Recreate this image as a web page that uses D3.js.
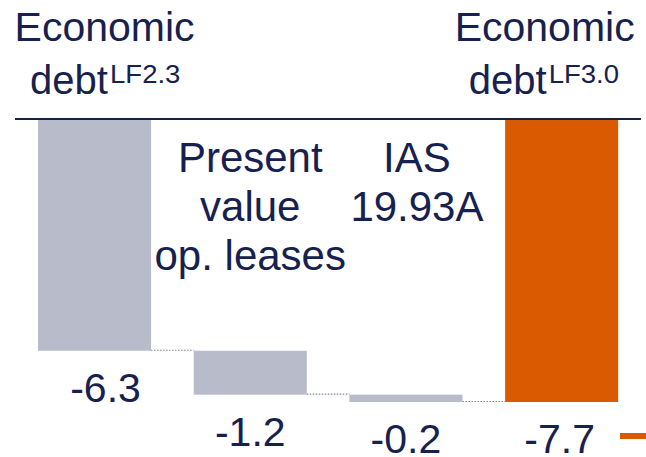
<!DOCTYPE html>
<html>
<head>
<meta charset="utf-8">
<script src="https://cdn.jsdelivr.net/npm/d3@7"></script>
<style>
  body { margin: 0; background: #fff; }
  text { font-family: "Liberation Sans", Arial, sans-serif; fill: #17214f; }
</style>
</head>
<body>
<div id="chart"></div>
<script>
// waterfall data
var categories = ["start", "leases", "ias", "end"]
var values = [-6.3, -1.2, -0.2, -7.7]
var isTotal = [true, false, false, true]
var valueLabels = ["-6.3", "-1.2", "-0.2", "-7.7"]
var titleLines = [["Economic", "debt", "LF2.3"], null, null, ["Economic", "debt", "LF3.0"]]
var innerLines = [null, ["Present", "value", "op. leases"], ["IAS", "19.93A"], null]

var width = 646
var height = 457
var grey = "#b7bbca"
var orange = "#d95a00"
var navy = "#17214f"

var svg = d3.select("#chart").append("svg")
  .attr("width", width)
  .attr("height", height)

var x = d3.scaleBand()
  .domain(categories)
  .range([16.7, 639.5])
  .paddingInner(0.274)
  .paddingOuter(0.137)

var y = d3.scaleLinear()
  .domain([0, -7.7])
  .range([120, 402])

// compute start / end of each bar
var run = 0
var bars = categories.map(function(c, i) {
  var from, to
  if (isTotal[i]) { from = 0; to = values[i]; run = values[i] }
  else { from = run; to = run + values[i]; run = to }
  return { cat: c, from: from, to: to, i: i }
})

// dotted connectors
for (var i = 0; i < bars.length - 1; i++) {
  svg.append("line")
    .attr("x1", x(bars[i].cat) + x.bandwidth())
    .attr("x2", x(bars[i + 1].cat))
    .attr("y1", y(bars[i].to) - 0.5)
    .attr("y2", y(bars[i].to) - 0.5)
    .style("stroke", "#7d83a0")
    .style("stroke-width", 1.2)
    .style("stroke-dasharray", "1.5,1.5")
}

svg.selectAll("rect.bar")
  .data(bars)
  .enter()
  .append("rect")
  .attr("class", "bar")
  .attr("x", function(d) { return x(d.cat) })
  .attr("width", x.bandwidth())
  .attr("y", function(d) { return y(Math.max(d.from, d.to)) })
  .attr("height", function(d) { return Math.abs(y(d.to) - y(d.from)) })
  .style("fill", function(d) { return d.i == 3 ? orange : grey })

// zero line
svg.append("line")
  .attr("x1", 15).attr("x2", 641)
  .attr("y1", y(0) - 1).attr("y2", y(0) - 1)
  .style("stroke", navy)
  .style("stroke-width", 2)

// label centres (first and last labels sit a bit off the bar centre)
var labelShift = [11, 0, 0, -2]

svg.selectAll("text.val")
  .data(bars)
  .enter()
  .append("text")
  .attr("class", "val")
  .attr("x", function(d) { return x(d.cat) + x.bandwidth() / 2 + labelShift[d.i] })
  .attr("y", function(d) { return y(Math.min(d.from, d.to)) + 51 })
  .attr("text-anchor", "middle")
  .style("font-size", "41px")
  .text(function(d) { return valueLabels[d.i] })

// titles above the zero line
var titleShift = [10, 0, 0, -17]
var debtShift = [-64.5, 0, 0, -93]
bars.forEach(function(d) {
  var t = titleLines[d.i]
  if (!t) return
  var cx = x(d.cat) + x.bandwidth() / 2
  svg.append("text")
    .attr("x", cx + titleShift[d.i]).attr("y", 41)
    .attr("text-anchor", "middle")
    .style("font-size", "41px")
    .text(t[0])
  var x0 = cx + debtShift[d.i]
  svg.append("text")
    .attr("x", x0).attr("y", 94)
    .style("font-size", "40px")
    .text(t[1])
  // superscript, slightly wider glyphs
  svg.append("text")
    .attr("transform", "translate(" + (x0 + 80) + ",82.5) scale(1.1,1)")
    .style("font-size", "25px")
    .text(t[2])
})

// category text inside the plot
bars.forEach(function(d) {
  var t = innerLines[d.i]
  if (!t) return
  var cx = x(d.cat) + x.bandwidth() / 2 + (d.i == 2 ? 11 : 0)
  t.forEach(function(s, k) {
    svg.append("text")
      .attr("x", cx)
      .attr("y", 172 + k * 49)
      .attr("text-anchor", "middle")
      .style("font-size", "42px")
      .text(s)
  })
})

// legend stub
svg.append("line")
  .attr("x1", 620).attr("x2", 646)
  .attr("y1", 436).attr("y2", 436)
  .style("stroke", orange)
  .style("stroke-width", 6)
</script>
</body>
</html>
